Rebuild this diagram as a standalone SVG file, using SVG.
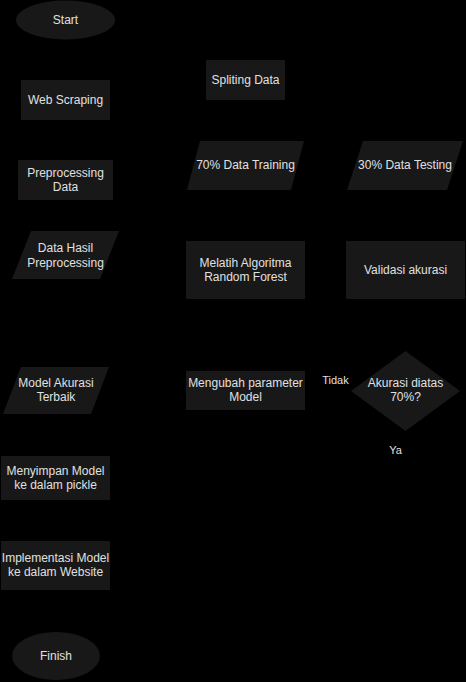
<svg xmlns="http://www.w3.org/2000/svg" width="466" height="682" viewBox="0 0 466 682">
<style>
.s{fill:#181818;stroke:none}
.t{font-family:"Liberation Sans",Arial,sans-serif;font-size:12px;fill:#e0e0e0;text-anchor:middle;dominant-baseline:central}
</style>
<rect width="466" height="682" fill="#000"/>
<g id="connectors"></g>
<g id="start"><ellipse class="s" cx="65.5" cy="20" rx="49.5" ry="19.5"/><text class="t" x="65.5" y="20">Start</text></g>
<g id="web-scraping"><rect class="s" x="21" y="80" width="89" height="40"/><text class="t" x="65.5" y="100">Web Scraping</text></g>
<g id="preprocessing"><rect class="s" x="18" y="160" width="95" height="40"/><text class="t" x="65.5" y="173">Preprocessing</text><text class="t" x="65.5" y="187">Data</text></g>
<g id="data-hasil"><polygon class="s" points="31,231 119,231 100,279 12,279"/><text class="t" x="65.5" y="248">Data Hasil</text><text class="t" x="65.5" y="263">Preprocessing</text></g>
<g id="spliting"><rect class="s" x="206" y="60" width="79" height="40"/><text class="t" x="245.5" y="80">Spliting Data</text></g>
<g id="training"><polygon class="s" points="200,141 304,141 291,190 187,190"/><text class="t" x="245.5" y="165">70% Data Training</text></g>
<g id="testing"><polygon class="s" points="363,141 463,141 447,190 347,190"/><text class="t" x="405" y="165">30% Data Testing</text></g>
<g id="melatih"><rect class="s" x="186" y="241" width="119" height="58"/><text class="t" x="245.5" y="263">Melatih Algoritma</text><text class="t" x="245.5" y="277">Random Forest</text></g>
<g id="validasi"><rect class="s" x="346" y="241" width="119" height="58"/><text class="t" x="405.5" y="270">Validasi akurasi</text></g>
<g id="model-akurasi"><polygon class="s" points="21,367 109,367 91,414 3,414"/><text class="t" x="56" y="383">Model Akurasi</text><text class="t" x="56" y="397">Terbaik</text></g>
<g id="mengubah"><rect class="s" x="186" y="371" width="119" height="39"/><text class="t" x="245.5" y="383">Mengubah parameter</text><text class="t" x="245.5" y="397">Model</text></g>
<g id="akurasi-diatas"><polygon class="s" points="405.5,351 460,391 405.5,431 351,391"/><text class="t" x="405.5" y="383">Akurasi diatas</text><text class="t" x="405.5" y="397">70%?</text></g>
<g id="label-tidak"><text class="t" x="335.5" y="380" style="font-size:11px">Tidak</text></g>
<g id="label-ya"><text class="t" x="395.5" y="450" style="font-size:11px">Ya</text></g>
<g id="menyimpan"><rect class="s" x="1" y="456" width="109" height="44"/><text class="t" x="55.5" y="471">Menyimpan Model</text><text class="t" x="55.5" y="485">ke dalam pickle</text></g>
<g id="implementasi"><rect class="s" x="1" y="541" width="109" height="49"/><text class="t" x="55.5" y="558">Implementasi Model</text><text class="t" x="55.5" y="572">ke dalam Website</text></g>
<g id="finish"><ellipse class="s" cx="56" cy="656" rx="44" ry="24"/><text class="t" x="56" y="656">Finish</text></g>
</svg>
